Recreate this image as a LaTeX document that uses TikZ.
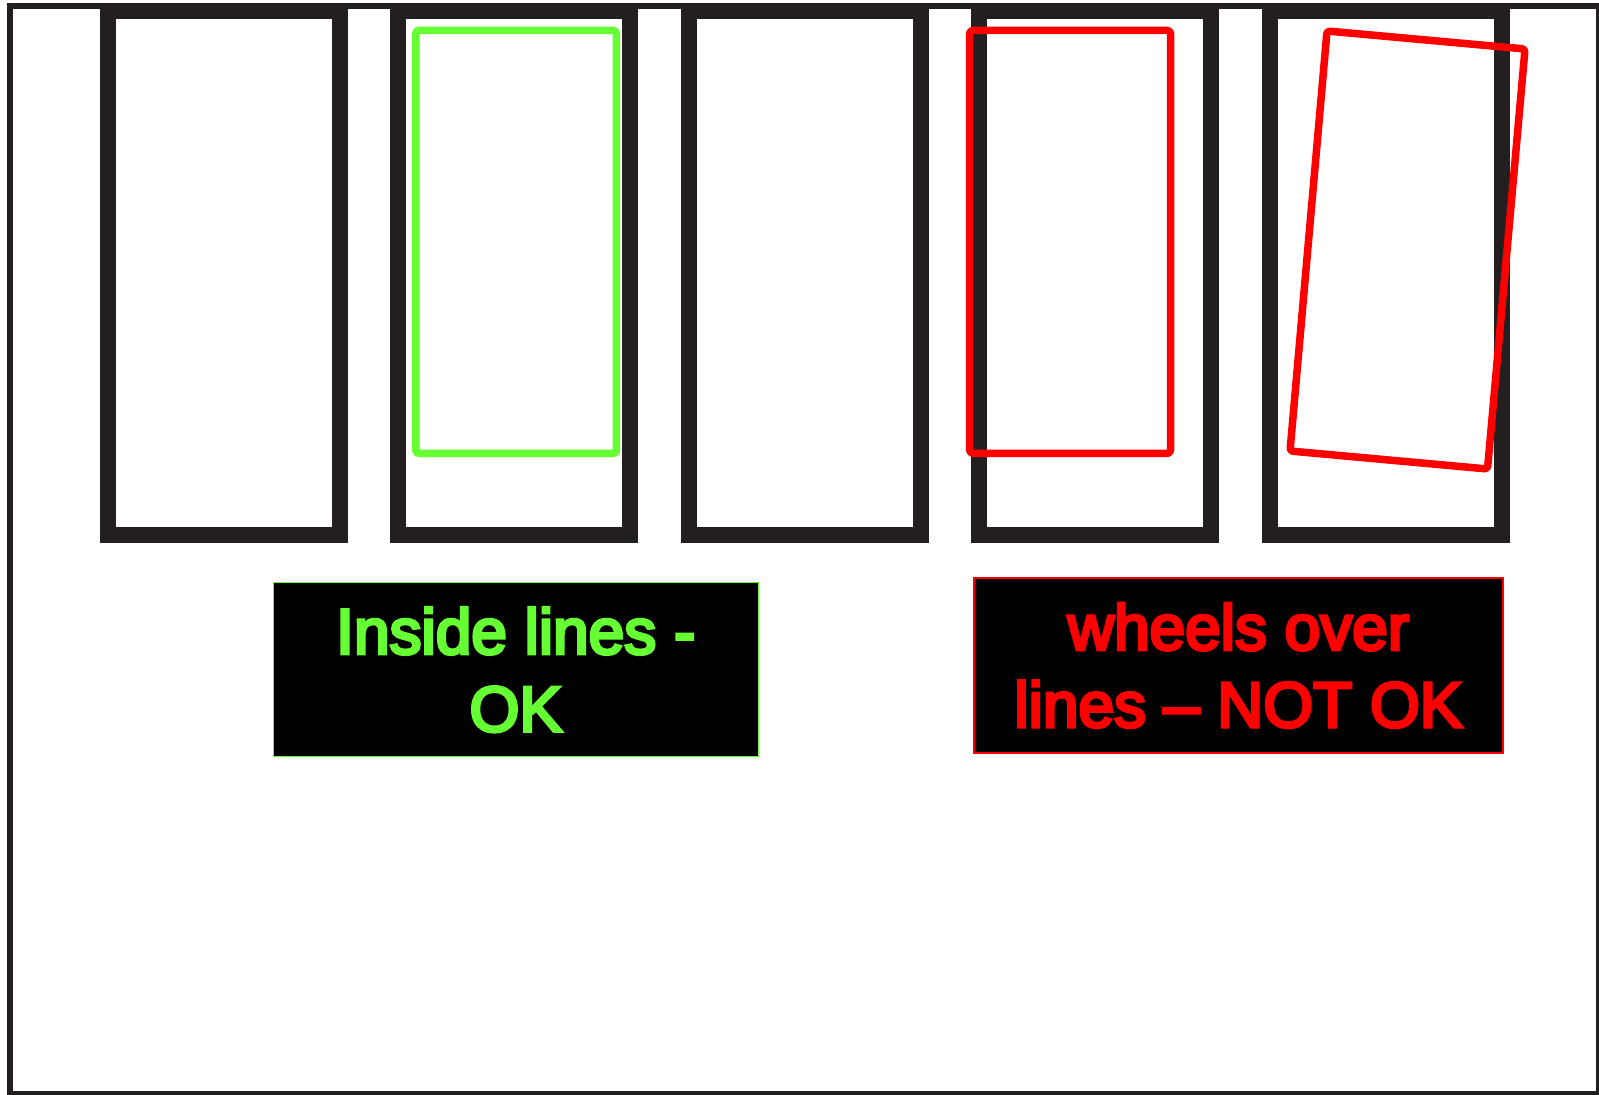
\documentclass[tikz,border=0pt]{standalone}
\usepackage{fontspec}
\newfontfamily\labfont[FakeBold=5]{Liberation Sans}
\definecolor{framecol}{HTML}{231F20}
\definecolor{okgreen}{HTML}{66FF33}
\definecolor{badred}{HTML}{FF0000}
\begin{document}
\begin{tikzpicture}[x=0.5pt,y=-0.5pt,
  slotbox/.style={draw=framecol,line width=8pt},
  carok/.style={draw=okgreen,line width=3.75pt,rounded corners=1.5pt},
  carbad/.style={draw=badred,line width=3.75pt,rounded corners=1.5pt,line join=round},
  labelbox/.style={fill=black,line width=0.75pt,inner sep=0pt,align=center}]
\useasboundingbox (0,0) rectangle (1599,1095);
\fill[white] (0,0) rectangle (1599,1095);
\begin{scope}
\clip (0,0) rectangle (1599,1095);
\draw[framecol,line width=3pt] (9.7,6.3) rectangle (1598.5,1093.5);
\end{scope}
\foreach \i in {0,...,4}
  \draw[slotbox] ({108+290.4*\i},11.3) rectangle ({340+290.4*\i},535.4);
\draw[carok] (415.8,30.5) rectangle (616.3,453.3);
\draw[carbad] (969.7,30.5) rectangle (1170.5,453.3);
\draw[carbad] (1327,31) -- (1525,49) -- (1487.5,469) -- (1290,451) -- cycle;
\node[labelbox,draw=okgreen,text=okgreen,minimum width=242.5pt,minimum height=87pt,
  font=\labfont\fontsize{32}{38.75}\selectfont] (okbox) at (515.8,669.7) {Inside lines -\\OK};
\node[labelbox,draw=badred,text=badred,minimum width=264.5pt,minimum height=87.7pt,
  font=\labfont\fontsize{32}{38.65}\selectfont] (badbox) at (1238.5,665.5) {wheels over\\lines – NOT OK};
\end{tikzpicture}
\end{document}
